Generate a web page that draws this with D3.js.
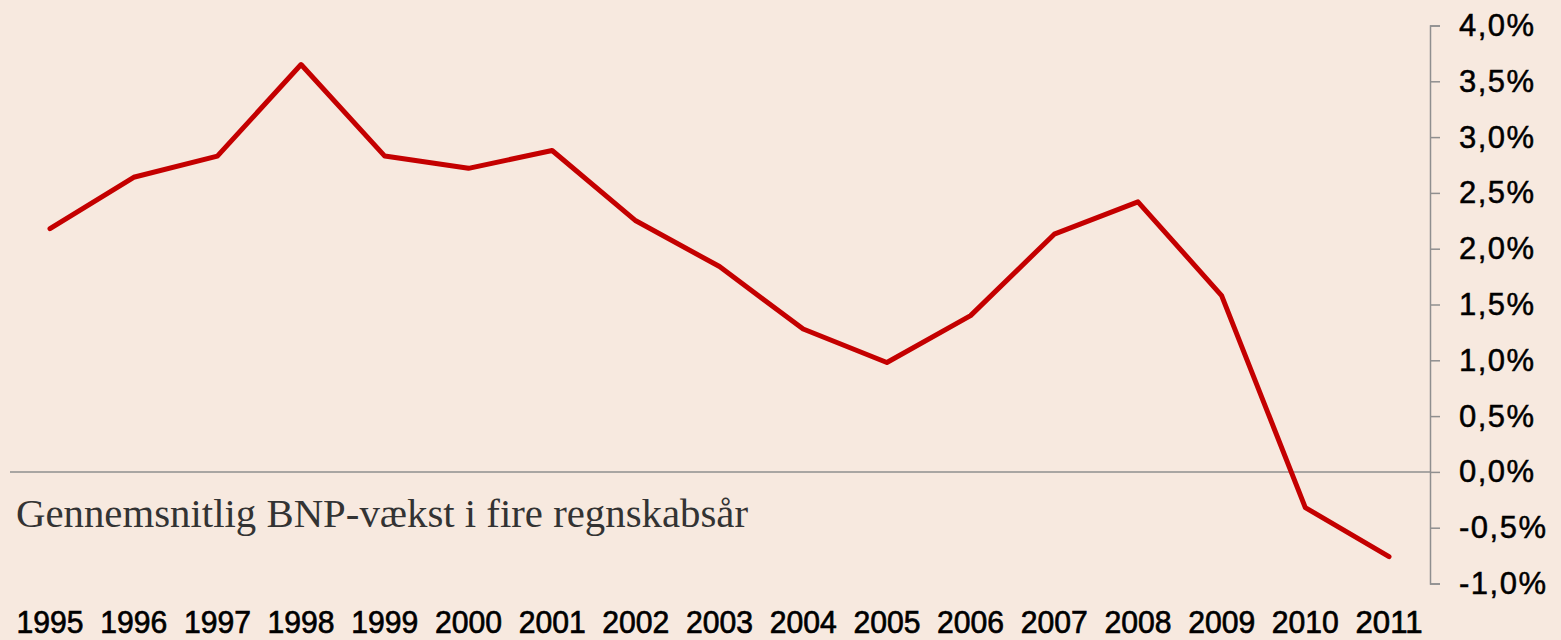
<!doctype html>
<html>
<head>
	<script src="https://d3js.org/d3.v7.min.js"></script>
	<style>
		body { margin: 0; background: #f7e9df; }
		svg { display: block; }
	</style>
</head>
<body>
	<svg id="chart" width="1561" height="640"></svg>
	<script>
		var years = ["1995", "1996", "1997", "1998", "1999", "2000", "2001", "2002", "2003",
			"2004", "2005", "2006", "2007", "2008", "2009", "2010", "2011"];
		var growth = [2.18, 2.64, 2.83, 3.65, 2.83, 2.72, 2.88, 2.25, 1.84,
			1.28, 0.98, 1.40, 2.13, 2.42, 1.58, -0.32, -0.76];
		var yTicks = [-1, -0.5, 0, 0.5, 1, 1.5, 2, 2.5, 3, 3.5, 4];
		var caption = "Gennemsnitlig BNP-vækst i fire regnskabsår";

		dataViz();
		function dataViz() {
			var svg = d3.select("#chart");
			var axisX = 1430;

			var xScale = d3.scalePoint()
				.domain(years)
				.range([50, 1389]);

			var yScale = d3.scaleLinear()
				.domain([-1, 4])
				.range([583.5, 25.5]);

			// zero line
			svg.append("line")
				.attr("x1", 10)
				.attr("x2", axisX)
				.attr("y1", yScale(0))
				.attr("y2", yScale(0))
				.attr("stroke", "#8f8f8f")
				.attr("stroke-width", 1.5);

			// right axis, comma decimals and plain hyphen minus
			var fmt = function(d) {
				return d.toFixed(1).replace(".", ",") + "%";
			};
			var yAxis = d3.axisRight(yScale)
				.tickValues(yTicks)
				.tickSize(10)
				.tickPadding(19)
				.tickFormat(fmt);

			var yAxisG = svg.append("g")
				.attr("transform", "translate(" + axisX + ",0)")
				.call(yAxis);
			yAxisG.select(".domain").attr("stroke", "#8f8f8f").attr("stroke-width", 1.5);
			yAxisG.selectAll(".tick line").attr("stroke", "#8f8f8f").attr("stroke-width", 1.5);
			yAxisG.selectAll(".tick text")
				.attr("fill", "#000")
				.attr("stroke", "#000")
				.attr("stroke-width", 0.5)
				.style("font-family", "'Liberation Sans', Arial, sans-serif")
				.style("font-size", "31px")
				.style("letter-spacing", "1.5px");

			// year labels
			svg.append("g")
				.selectAll("text")
				.data(years)
				.enter()
				.append("text")
					.attr("x", d => xScale(d))
					.attr("y", 633)
					.attr("text-anchor", "middle")
					.attr("textLength", 67)
					.attr("lengthAdjust", "spacingAndGlyphs")
					.style("font-family", "'Liberation Sans', Arial, sans-serif")
					.style("font-size", "32px")
					.attr("fill", "#000")
					.attr("stroke", "#000")
					.attr("stroke-width", 0.7)
					.text(d => d);

			// line
			var line = d3.line()
				.x((d, i) => xScale(years[i]))
				.y(d => yScale(d));

			svg.append("path")
				.datum(growth)
				.attr("d", line)
				.attr("fill", "none")
				.attr("stroke", "#c40000")
				.attr("stroke-width", 5)
				.attr("stroke-linejoin", "round")
				.attr("stroke-linecap", "round");

			// caption
			svg.append("text")
				.attr("x", 16)
				.attr("y", 527)
				.attr("textLength", 732)
				.attr("lengthAdjust", "spacingAndGlyphs")
				.style("font-family", "'Liberation Serif', 'DejaVu Serif', serif")
				.style("font-size", "39px")
				.attr("fill", "#333")
				.text(caption);
		}
	</script>
</body>
</html>
